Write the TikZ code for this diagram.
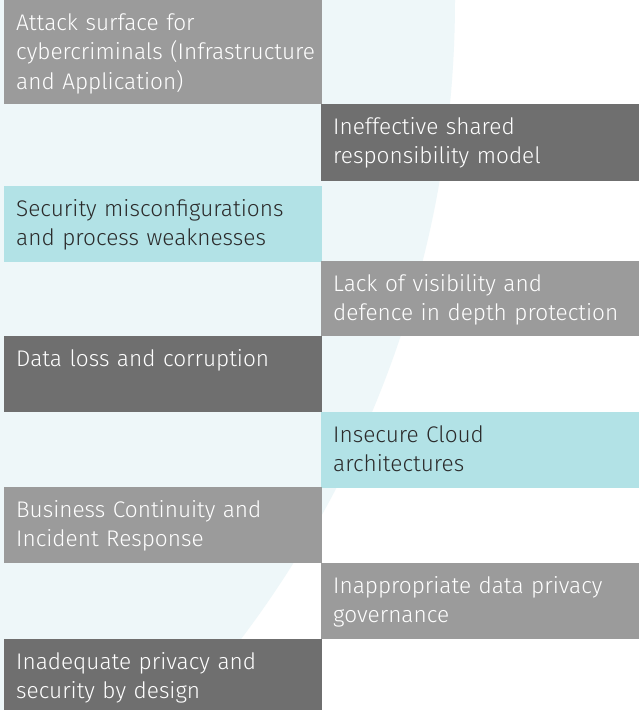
\documentclass[tikz,border=0pt]{standalone}
\usepackage{fontspec}
\setmainfont{Fira Sans}[UprightFont=* Light]
\definecolor{bgcyan}{HTML}{EEF7F9}
\definecolor{boxcyan}{HTML}{B2E2E6}
\definecolor{lgray}{HTML}{9B9B9B}
\definecolor{dgray}{HTML}{6F6F6F}
\definecolor{darktext}{HTML}{2B2B2B}
\begin{document}
\begin{tikzpicture}[x=1pt,y=-1pt,
  panel/.style={rectangle, draw=none, inner sep=0pt, anchor=north west,
    minimum width=318pt, minimum height=#1},
  label/.style={anchor=north west, inner sep=0pt, text width=400pt, align=left,
    font=\fontsize{22.6}{29.2}\selectfont, text=#1},
]
\useasboundingbox (0,0) rectangle (639,710);
\fill[white] (0,0) rectangle (639,710);
\begin{scope}
  \clip (0,0) rectangle (639,710);
  \fill[bgcyan] (-606,0) circle[radius=1061pt];
\end{scope}

\node[panel=104pt, fill=lgray]   (b1) at (4,0)   {};
\node[panel=77pt,  fill=dgray]   (b2) at (321,104) {};
\node[panel=76pt,  fill=boxcyan] (b3) at (4,186) {};
\node[panel=75pt,  fill=lgray]   (b4) at (321,261) {};
\node[panel=76pt,  fill=dgray]   (b5) at (4,336) {};
\node[panel=76pt,  fill=boxcyan] (b6) at (321,412) {};
\node[panel=76pt,  fill=lgray]   (b7) at (4,487) {};
\node[panel=76pt,  fill=lgray]   (b8) at (321,563) {};
\node[panel=71pt,  fill=dgray]   (b9) at (4,639) {};

\node[label=white]    (t1) at ([xshift=12pt,yshift=-10pt]b1.north west) {\strut Attack surface for\\cybercriminals (Infrastructure\\and Application)};
\node[label=white]    (t2) at ([xshift=12pt,yshift=-10pt]b2.north west) {\strut Ineffective shared\\responsibility model};
\node[label=darktext] (t3) at ([xshift=12pt,yshift=-10pt]b3.north west) {\strut Security misconfigurations\\and process weaknesses};
\node[label=white]    (t4) at ([xshift=12pt,yshift=-10pt]b4.north west) {\strut Lack of visibility and\\defence in depth protection};
\node[label=white]    (t5) at ([xshift=12pt,yshift=-10pt]b5.north west) {\strut Data loss and corruption};
\node[label=darktext] (t6) at ([xshift=12pt,yshift=-10pt]b6.north west) {\strut Insecure Cloud\\architectures};
\node[label=white]    (t7) at ([xshift=12pt,yshift=-10pt]b7.north west) {\strut Business Continuity and\\Incident Response};
\node[label=white]    (t8) at ([xshift=12pt,yshift=-10pt]b8.north west) {\strut Inappropriate data privacy\\governance};
\node[label=white]    (t9) at ([xshift=12pt,yshift=-10pt]b9.north west) {\strut Inadequate privacy and\\security by design};
\end{tikzpicture}
\end{document}
